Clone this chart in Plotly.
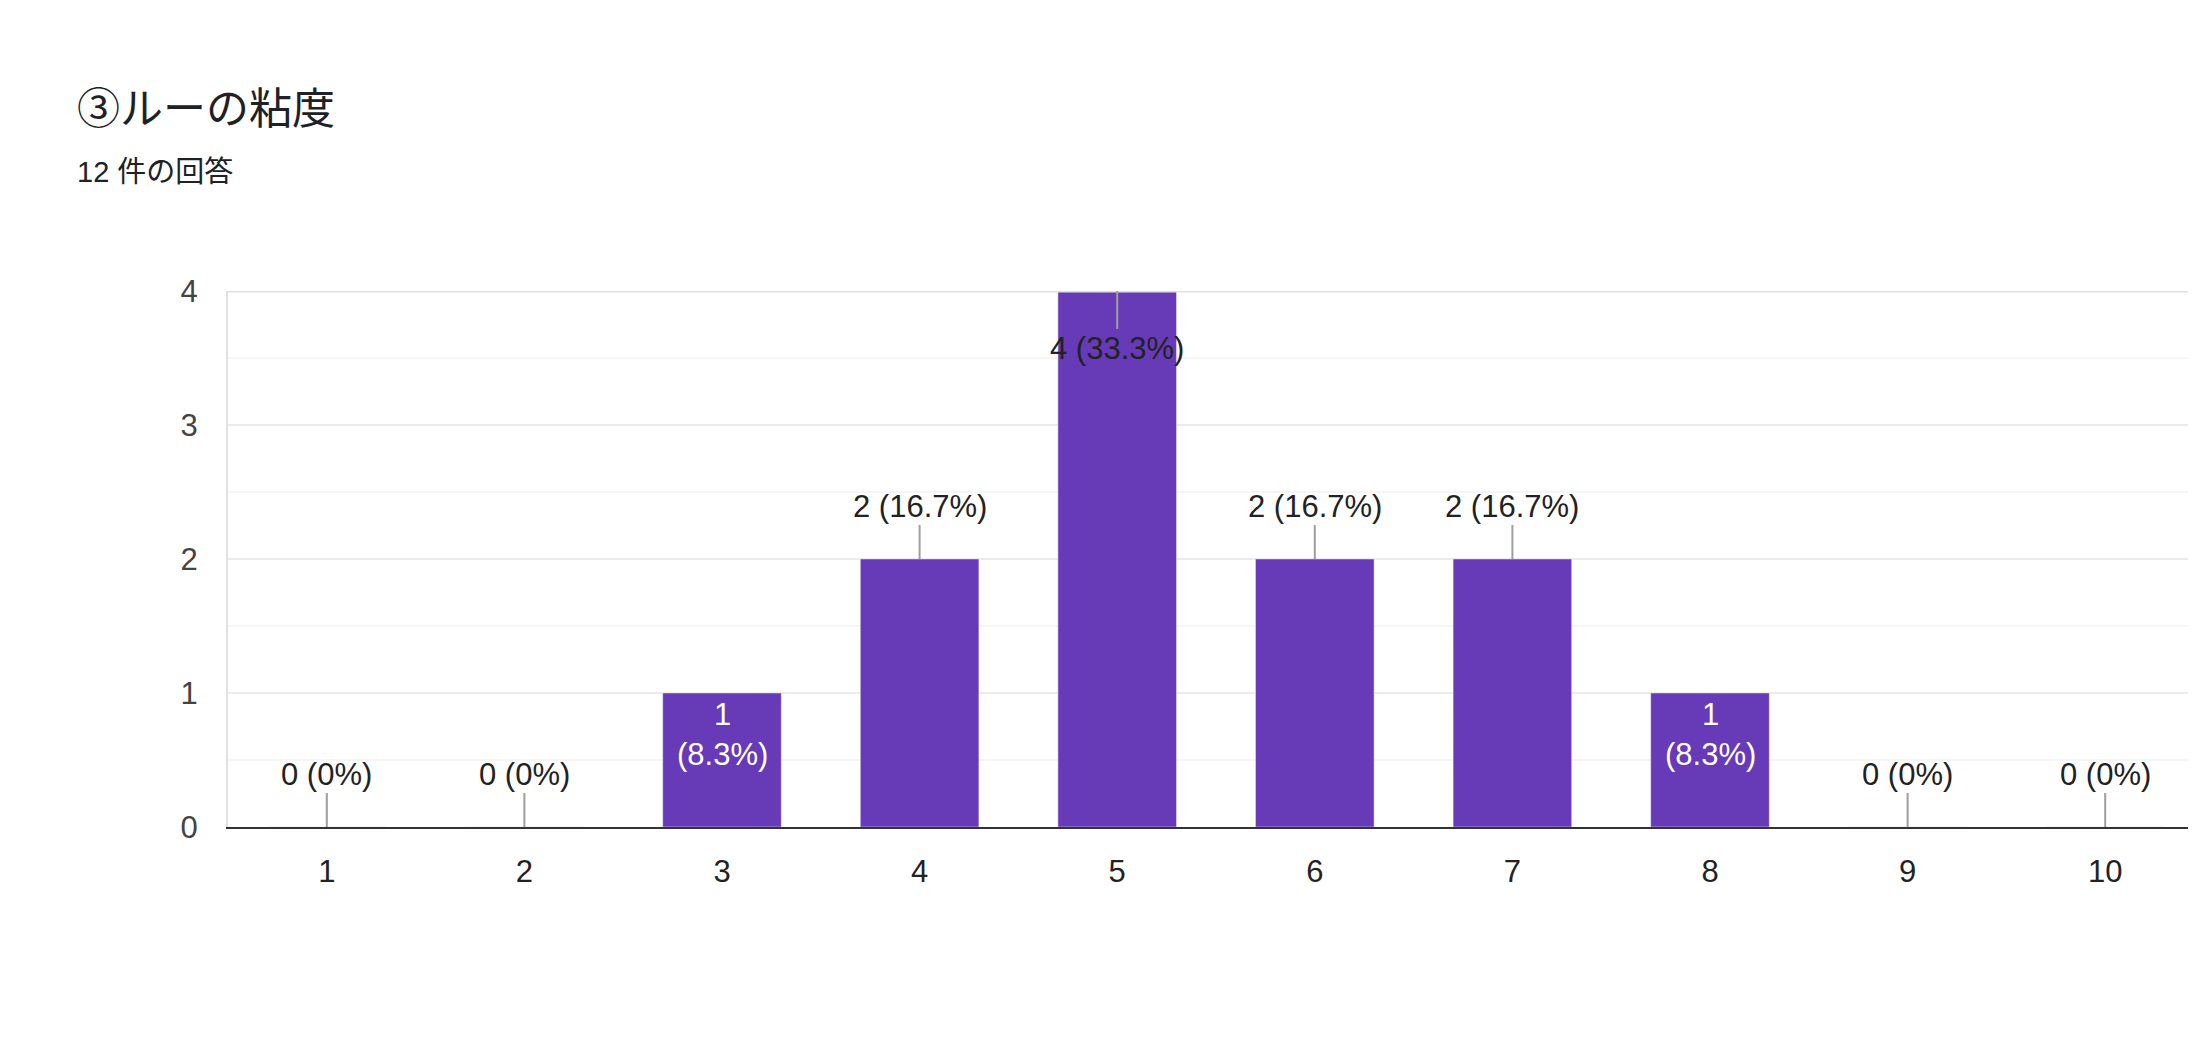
import plotly.graph_objects as go

categories = [1, 2, 3, 4, 5, 6, 7, 8, 9, 10]
counts = [0, 0, 1, 2, 4, 2, 2, 1, 0, 0]
labels = ["0 (0%)", "0 (0%)", "1<br>(8.3%)", "2 (16.7%)", "4 (33.3%)", "2 (16.7%)",
          "2 (16.7%)", "1<br>(8.3%)", "0 (0%)", "0 (0%)"]
tick_labels = ["1", "2", "3", "4", "5", "6", "7", "8", "9", "10"]
title = "③ルーの粘度"
subtitle = "12 件の回答"

FONT = "Liberation Sans, Arial, Noto Sans CJK JP"
purple = "#673ab7"

fig = go.Figure(go.Bar(x=categories, y=counts, marker_color=purple, width=0.6, hoverinfo="skip"))

ann = []
for c, v, t in zip(categories, counts, labels):
    if v == 1:
        ann.append(dict(x=c, y=v, text=t, showarrow=False, yanchor="top", yshift=-2,
                        font=dict(color="white", size=31, family=FONT)))
    elif v == 4:
        ann.append(dict(x=c, y=v, text=t, showarrow=True, ax=0, ay=57, arrowhead=0,
                        arrowwidth=2, arrowcolor="#9e9e9e", standoff=0,
                        font=dict(color="#222", size=31, family=FONT)))
    else:
        ann.append(dict(x=c, y=v, text=t, showarrow=True, ax=0, ay=-53, arrowhead=0,
                        arrowwidth=2, arrowcolor="#9e9e9e", standoff=0,
                        font=dict(color="#222", size=31, family=FONT)))
ann.append(dict(xref="paper", yref="paper", x=-0.0775, y=1.34, xanchor="left", yanchor="middle",
                text=title, showarrow=False, font=dict(size=43, color="#202124", family=FONT)))
ann.append(dict(xref="paper", yref="paper", x=-0.0775, y=1.222, xanchor="left", yanchor="middle",
                text=subtitle, showarrow=False, font=dict(size=29, color="#202124", family=FONT)))

fig.update_layout(
    width=2196, height=1044, margin=dict(l=220, r=0, t=283, b=225),
    plot_bgcolor="white", paper_bgcolor="white", showlegend=False,
    annotations=ann,
    shapes=[dict(type="line", xref="paper", yref="y", x0=0, x1=1, y0=4, y1=4,
                 line=dict(color="#e0e0e0", width=3))],
)
fig.update_xaxes(range=[0.5, 10.5], tickvals=categories, ticktext=tick_labels,
                 showline=True, linecolor="#333", linewidth=2, showgrid=False,
                 tickfont=dict(size=31, color="#222", family=FONT), ticklabelstandoff=16)
fig.update_yaxes(range=[0, 4], dtick=1, showgrid=True, gridcolor="#ebebeb", gridwidth=2,
                 minor=dict(dtick=0.5, showgrid=True, gridcolor="#f5f5f5", gridwidth=2),
                 zeroline=False, tickfont=dict(size=31, color="#444", family=FONT),
                 ticklabelstandoff=22, showline=True, linecolor="#e0e0e0", linewidth=2)
fig.write_html("out.html")
